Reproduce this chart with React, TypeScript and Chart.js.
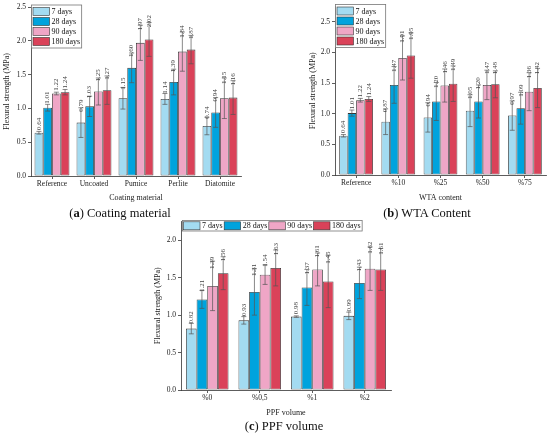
import React, { useEffect, useRef } from 'react';
import { Chart, registerables } from 'chart.js';
Chart.register(...registerables);
Chart.defaults.font.family = '"Liberation Serif", "Times New Roman", serif';
Chart.defaults.color = '#222';

const seriesLabels = ['7 days', '28 days', '90 days', '180 days'];
const seriesColors = ['#a3dbf1', '#00a3dd', '#efa6c6', '#da4259'];

// (a) Coating material
const coatingCategories = ['Reference', 'Uncoated', 'Pumice', 'Perlite', 'Diatomite'];
const coating7 = [0.64, 0.79, 1.15, 1.14, 0.74];
const coating28 = [1.01, 1.03, 1.6, 1.39, 0.94];
const coating90 = [1.22, 1.25, 1.97, 1.84, 1.15];
const coating180 = [1.24, 1.27, 2.02, 1.87, 1.16];
const coatingErr7 = [0.02, 0.22, 0.16, 0.08, 0.13];
const coatingErr28 = [0.05, 0.15, 0.22, 0.19, 0.22];
const coatingErr90 = [0.02, 0.2, 0.26, 0.29, 0.3];
const coatingErr180 = [0.04, 0.21, 0.25, 0.21, 0.25];

// (b) WTA content
const wtaCategories = ['Reference', '%10', '%25', '%50', '%75'];
const wta7 = [0.64, 0.87, 0.94, 1.05, 0.97];
const wta28 = [1.01, 1.47, 1.2, 1.2, 1.09];
const wta90 = [1.22, 1.91, 1.46, 1.47, 1.36];
const wta180 = [1.24, 1.95, 1.49, 1.48, 1.42];
const wtaErr7 = [0.02, 0.21, 0.24, 0.26, 0.24];
const wtaErr28 = [0.05, 0.3, 0.31, 0.27, 0.26];
const wtaErr90 = [0.03, 0.36, 0.27, 0.24, 0.31];
const wtaErr180 = [0.04, 0.37, 0.29, 0.22, 0.32];

// (c) PPF volume
const ppfCategories = ['%0', '%0,5', '%1', '%2'];
const ppf7 = [0.82, 0.93, 0.98, 0.99];
const ppf28 = [1.21, 1.31, 1.37, 1.43];
const ppf90 = [1.39, 1.54, 1.61, 1.62];
const ppf180 = [1.56, 1.63, 1.45, 1.61];
const ppfErr7 = [0.07, 0.05, 0.01, 0.05];
const ppfErr28 = [0.12, 0.31, 0.24, 0.21];
const ppfErr90 = [0.33, 0.13, 0.22, 0.29];
const ppfErr180 = [0.22, 0.24, 0.35, 0.28];

const yTicksA = [0, 0.5, 1.0, 1.5, 2.0, 2.5];

const errLabelPlugin = {
  id: 'errLabels',
  afterDatasetsDraw(chart: any) {
    const ctx = chart.ctx;
    const ys = chart.scales.y;
    chart.data.datasets.forEach((ds: any, di: number) => {
      const meta = chart.getDatasetMeta(di);
      meta.data.forEach((el: any, i: number) => {
        const v = ds.data[i];
        const e = ds.errors[i];
        const x = el.x;
        const yt = ys.getPixelForValue(v + e);
        const yb = ys.getPixelForValue(v - e);
        ctx.save();
        ctx.strokeStyle = '#555';
        ctx.lineWidth = 0.7;
        ctx.beginPath();
        ctx.moveTo(x, yt); ctx.lineTo(x, yb);
        ctx.moveTo(x - 2.5, yt); ctx.lineTo(x + 2.5, yt);
        ctx.moveTo(x - 2.5, yb); ctx.lineTo(x + 2.5, yb);
        ctx.stroke();
        const ly = ys.getPixelForValue(v + 0.6 * e) - 2;
        ctx.translate(x, ly);
        ctx.rotate(-Math.PI / 2);
        ctx.font = '7px "Liberation Serif"';
        ctx.fillStyle = '#444';
        ctx.textAlign = 'left';
        ctx.textBaseline = 'middle';
        ctx.fillText(v.toFixed(2), 0, 0);
        ctx.restore();
      });
    });
  },
};

const boxLegendPlugin = {
  id: 'boxLegend',
  afterDraw(chart: any, _args: any, opts: any) {
    const { ctx, chartArea } = chart;
    const dss = chart.data.datasets;
    ctx.save();
    ctx.font = '8px "Liberation Serif"';
    ctx.textBaseline = 'middle';
    ctx.textAlign = 'left';
    const sw = 16.5, sh = 8;
    const widths = dss.map((d: any) => ctx.measureText(d.label).width);
    if (opts.mode === 'vertical') {
      const rowH = 10;
      const x0 = chartArea.left + 0.5;
      const y0 = chartArea.top - 2;
      const w = 1.5 + sw + 2 + Math.max(...widths) + 1.5;
      const h = 2.5 + rowH * dss.length + 0.5;
      ctx.fillStyle = '#fff';
      ctx.fillRect(x0, y0, w, h);
      ctx.strokeStyle = '#777';
      ctx.lineWidth = 0.8;
      ctx.strokeRect(x0, y0, w, h);
      dss.forEach((d: any, i: number) => {
        const sy = y0 + 2.5 + i * rowH;
        ctx.fillStyle = d.backgroundColor;
        ctx.fillRect(x0 + 1.5, sy, sw, sh);
        ctx.strokeStyle = '#333';
        ctx.lineWidth = 0.6;
        ctx.strokeRect(x0 + 1.5, sy, sw, sh);
        ctx.fillStyle = '#111';
        ctx.fillText(d.label, x0 + 1.5 + sw + 2, sy + sh / 2 + 0.5);
      });
    } else {
      const x0 = chartArea.left + 1.5;
      const y0 = chartArea.top - 1;
      const h = 10.5;
      let total = 1;
      widths.forEach((tw: number) => { total += sw + 2 + tw + 1.5; });
      ctx.fillStyle = '#fff';
      ctx.fillRect(x0, y0, total, h);
      ctx.strokeStyle = '#777';
      ctx.lineWidth = 0.8;
      ctx.strokeRect(x0, y0, total, h);
      let x = x0 + 1;
      dss.forEach((d: any, i: number) => {
        const sy = y0 + 1.3;
        ctx.fillStyle = d.backgroundColor;
        ctx.fillRect(x, sy, sw, sh);
        ctx.strokeStyle = '#333';
        ctx.lineWidth = 0.6;
        ctx.strokeRect(x, sy, sw, sh);
        ctx.fillStyle = '#111';
        ctx.fillText(d.label, x + sw + 2, sy + sh / 2 + 0.5);
        x += sw + 2 + widths[i] + 1.5;
      });
    }
    ctx.restore();
  },
};

type PanelProps = {
  left: number; top: number; width: number; height: number;
  padTop: number; padRight: number; yWidth: number; xHeight: number;
  categories: string[]; values: number[][]; errors: number[][];
  yMax: number; xTitle: string; yTitlePad: number; xTitlePad: number;
  legendMode: 'vertical' | 'horizontal'; catPct: number;
};

function BarPanel(p: PanelProps) {
  const ref = useRef<HTMLCanvasElement | null>(null);
  useEffect(() => {
    if (!ref.current) return;
    const axisColor = '#333';
    const chart = new Chart(ref.current, {
      type: 'bar',
      data: {
        labels: p.categories,
        datasets: seriesLabels.map((label, i) => ({
          label,
          data: p.values[i],
          errors: p.errors[i],
          backgroundColor: seriesColors[i],
          borderColor: '#333',
          borderWidth: 0.8,
          borderSkipped: false,
          categoryPercentage: p.catPct,
          barPercentage: 1.0,
        })) as any,
      },
      options: {
        responsive: false,
        animation: false,
        layout: { padding: { top: p.padTop, right: p.padRight, left: 0, bottom: 0 } },
        plugins: {
          legend: { display: false },
          tooltip: { enabled: false },
          boxLegend: { mode: p.legendMode },
        } as any,
        scales: {
          x: {
            grid: { display: true, drawOnChartArea: false, offset: false, tickLength: 3, color: axisColor, lineWidth: 0.8 },
            border: { display: true, color: axisColor, width: 0.8 },
            ticks: { font: { size: 7.5 }, color: '#222', padding: 1, maxRotation: 0, autoSkip: false },
            title: { display: true, text: p.xTitle, font: { size: 8 }, color: '#222', padding: { top: 0, bottom: p.xTitlePad } },
            afterFit: (s: any) => { s.height = p.xHeight; },
          },
          y: {
            min: 0,
            max: p.yMax,
            grid: { display: true, drawOnChartArea: false, tickLength: 3, color: axisColor, lineWidth: 0.8 },
            border: { display: true, color: axisColor, width: 0.8 },
            ticks: { stepSize: 0.5, font: { size: 7.5 }, color: '#222', padding: 2, callback: (v: any) => Number(v).toFixed(1) },
            title: { display: true, text: 'Flexural strength (MPa)', font: { size: 8 }, color: '#222', padding: { top: p.yTitlePad, bottom: 0 } },
            afterFit: (s: any) => { s.width = p.yWidth; },
            afterBuildTicks: (s: any) => {
              s.ticks = s.ticks.filter((t: any) => yTicksA.some((v) => Math.abs(v - t.value) < 1e-6));
            },
          },
        },
      } as any,
      plugins: [errLabelPlugin, boxLegendPlugin],
    });
    return () => chart.destroy();
  }, []);
  return (
    <canvas
      ref={ref}
      width={p.width}
      height={p.height}
      style={{ position: 'absolute', left: p.left, top: p.top, width: p.width, height: p.height }}
    />
  );
}

function Caption({ x, y, letter, text }: { x: number; y: number; letter: string; text: string }) {
  return (
    <div
      style={{
        position: 'absolute', left: x, top: y, transform: 'translate(-50%, -50%)',
        whiteSpace: 'nowrap', fontFamily: '"Liberation Serif", serif', fontSize: 12.5, color: '#111',
      }}
    >
      (<b>{letter}</b>) {text}
    </div>
  );
}

export default function App() {
  return (
    <div style={{ position: 'absolute', left: 0, top: 0, width: 550, height: 436, background: '#fff', overflow: 'hidden' }}>
      <BarPanel
        left={0} top={0} width={250} height={205}
        padTop={7} padRight={9} yWidth={31} xHeight={29}
        categories={coatingCategories}
        values={[coating7, coating28, coating90, coating180]}
        errors={[coatingErr7, coatingErr28, coatingErr90, coatingErr180]}
        yMax={2.5} xTitle="Coating material" yTitlePad={2} xTitlePad={2}
        legendMode="vertical" catPct={0.83}
      />
      <BarPanel
        left={300} top={0} width={250} height={205}
        padTop={6} padRight={4} yWidth={35} xHeight={30}
        categories={wtaCategories}
        values={[wta7, wta28, wta90, wta180]}
        errors={[wtaErr7, wtaErr28, wtaErr90, wtaErr180]}
        yMax={2.75} xTitle="WTA content" yTitlePad={8} xTitlePad={2}
        legendMode="vertical" catPct={0.8}
      />
      <BarPanel
        left={140} top={215} width={260} height={205}
        padTop={6} padRight={9} yWidth={41} xHeight={30}
        categories={ppfCategories}
        values={[ppf7, ppf28, ppf90, ppf180]}
        errors={[ppfErr7, ppfErr28, ppfErr90, ppfErr180]}
        yMax={2.25} xTitle="PPF volume" yTitlePad={13} xTitlePad={2}
        legendMode="horizontal" catPct={0.81}
      />
      <Caption x={120} y={213} letter="a" text="Coating material" />
      <Caption x={427} y={213} letter="b" text="WTA Content" />
      <Caption x={284} y={426} letter="c" text="PPF volume" />
    </div>
  );
}
